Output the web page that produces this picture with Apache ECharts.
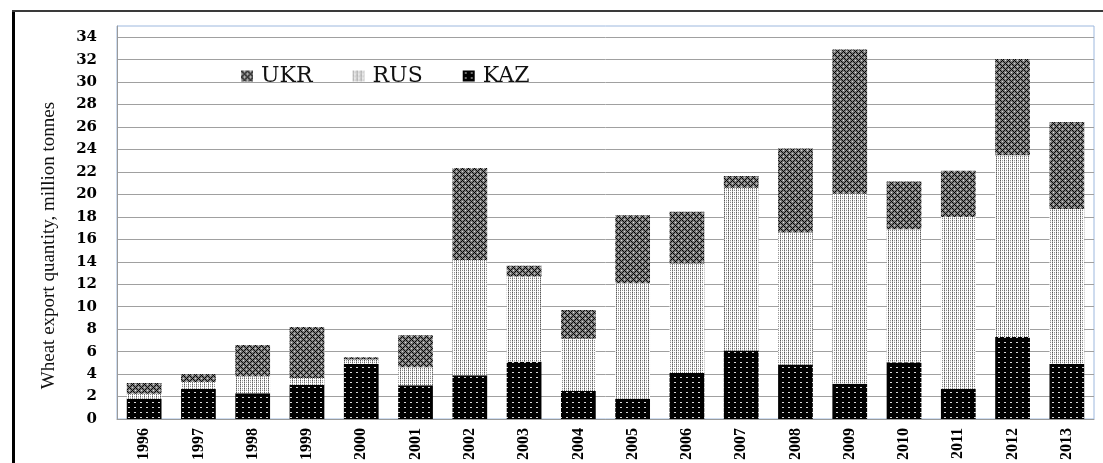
<!DOCTYPE html>
<html>
<head>
<meta charset="utf-8">
<script src="https://cdn.jsdelivr.net/npm/echarts@6/dist/echarts.min.js"></script>
<style>
  html, body { margin: 0; padding: 0; background: #fff; }
  #chart { width: 1103px; height: 463px; }
</style>
</head>
<body>
<div id="chart"></div>
<script>
// Wheat exports of Ukraine, Russia and Kazakhstan, million tonnes
const years = ['1996','1997','1998','1999','2000','2001','2002','2003','2004',
               '2005','2006','2007','2008','2009','2010','2011','2012','2013'];
const kaz = [1.8, 2.7, 2.3, 3.05, 4.9, 3.0, 3.9, 5.1, 2.5, 1.8, 4.1, 6.1, 4.85, 3.15, 5.05, 2.7, 7.3, 4.9];
const rus = [0.45, 0.6, 1.5, 0.6, 0.4, 1.6, 10.25, 7.6, 4.65, 10.3, 9.75, 14.5, 11.75, 16.9, 11.85, 15.3, 16.2, 13.8];
const ukr = [0.95, 0.7, 2.8, 4.55, 0.2, 2.85, 8.2, 0.95, 2.55, 6.05, 4.6, 1.05, 7.5, 12.85, 4.25, 4.1, 8.55, 7.75];
const legendOrder = ['UKR', 'RUS', 'KAZ'];

// Small repeating fill tiles for the hatched bars
function tile(w, h, bg, pixels) {
  const c = document.createElement('canvas');
  c.width = w; c.height = h;
  const g = c.getContext('2d');
  g.fillStyle = bg; g.fillRect(0, 0, w, h);
  pixels.forEach(([x, y, pw, ph, col]) => { g.fillStyle = col; g.fillRect(x, y, pw, ph); });
  return { image: c, repeat: 'repeat' };
}

// dense black with a grid of light dots
const kazFill = tile(6, 5, '#000', [[2, 2, 2, 1, '#d8d8d8']]);
// white with dotted vertical stripes
const rusFill = tile(4, 4, '#fff', [
  [0, 0, 1, 1, '#555'], [0, 1, 1, 1, '#aaa'], [0, 2, 1, 1, '#666'], [0, 3, 1, 1, '#bbb'],
  [2, 0, 1, 1, '#999'], [2, 2, 1, 1, '#888'], [2, 1, 1, 1, '#ddd']
]);
// grey diamond lattice
const ukrFill = tile(6, 6, '#7c7c7c', [
  [0, 0, 1, 1, '#000'], [1, 1, 1, 1, '#000'], [2, 2, 1, 1, '#111'], [3, 3, 1, 1, '#000'],
  [4, 2, 1, 1, '#111'], [5, 1, 1, 1, '#000'], [4, 4, 1, 1, '#000'], [5, 5, 1, 1, '#111'],
  [1, 5, 1, 1, '#000'], [2, 4, 1, 1, '#111'], [3, 0, 1, 1, '#e0e0e0'], [0, 3, 1, 1, '#d0d0d0']
]);

const chart = echarts.init(document.getElementById('chart'), null, { renderer: 'canvas' });

chart.setOption({
  animation: false,
  backgroundColor: '#fff',
  grid: {
    left: 117, right: 9, top: 26, bottom: 39,
    show: true, borderColor: '#9db8de', borderWidth: 1, backgroundColor: 'transparent'
  },
  legend: {
    data: legendOrder,
    left: 236, top: 60,
    itemWidth: 12, itemHeight: 11, itemGap: 40,
    icon: 'rect',
    textStyle: { fontFamily: 'DejaVu Serif', fontSize: 22, color: '#111', padding: [0, 0, 0, 3] }
  },
  xAxis: {
    type: 'category',
    data: years,
    axisLine: { lineStyle: { color: '#9a9a9a', width: 1 } },
    axisTick: { show: false },
    axisLabel: {
      rotate: 90, margin: 9, color: '#000',
      fontFamily: 'Liberation Serif', fontWeight: 'bold', fontSize: 16
    }
  },
  yAxis: {
    type: 'value',
    min: 0, max: 35, interval: 2,
    name: 'Wheat export quantity, million tonnes',
    nameLocation: 'middle', nameGap: 58, nameRotate: 90,
    nameTextStyle: {
      fontFamily: 'Liberation Serif', fontSize: 19, color: '#111',
      padding: [0, 46, 0, 0]
    },
    axisLine: { show: true, lineStyle: { color: '#9a9a9a', width: 1 } },
    axisTick: { show: false },
    axisLabel: {
      showMaxLabel: false, margin: 20, color: '#000',
      fontFamily: 'DejaVu Serif', fontWeight: 'bold', fontSize: 15
    },
    splitLine: { show: true, showMaxLine: false, lineStyle: { color: '#a0a0a0', width: 1 } }
  },
  series: [
    { name: 'KAZ', type: 'bar', stack: 'total', barWidth: '64%', data: kaz, itemStyle: { color: kazFill } },
    { name: 'RUS', type: 'bar', stack: 'total', data: rus, itemStyle: { color: rusFill } },
    { name: 'UKR', type: 'bar', stack: 'total', data: ukr, itemStyle: { color: ukrFill } }
  ],
  graphic: [
    // outer frame edges
    { type: 'rect', shape: { x: 12, y: 10, width: 3, height: 453 }, style: { fill: '#000' }, silent: true },
    { type: 'rect', shape: { x: 12, y: 10, width: 1091, height: 2 }, style: { fill: '#3a3a3a' }, silent: true }
  ]
});
</script>
</body>
</html>
